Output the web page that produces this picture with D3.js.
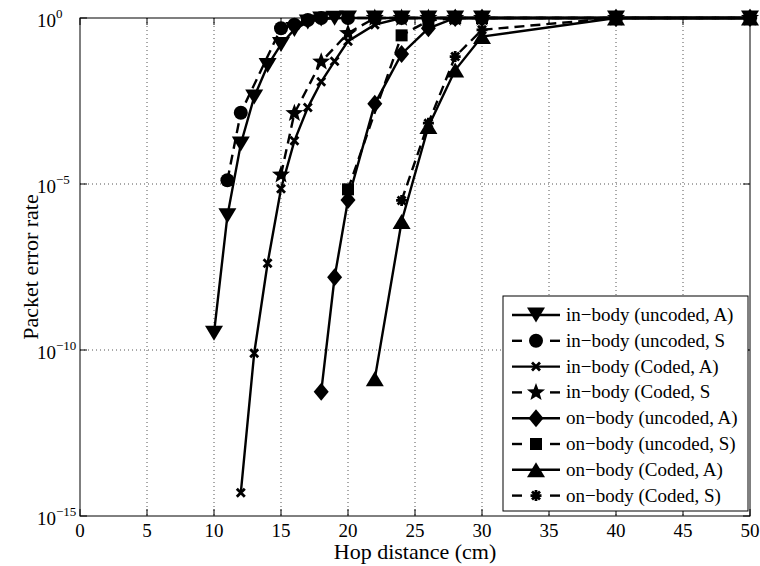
<!DOCTYPE html>
<html><head><meta charset="utf-8">
<script src="https://cdn.jsdelivr.net/npm/d3@7/dist/d3.min.js"></script>
<style>
html,body{margin:0;padding:0;background:#fff;}
text{font-family:"Liberation Serif","Times New Roman",serif;fill:#000;}
</style></head>
<body>
<svg id="chart" width="760" height="566"></svg>
<script>
// ---- data ----
const xTicks = [0,5,10,15,20,25,30,35,40,45,50];
const yTickExps = [0,-5,-10,-15];
const xLabel = "Hop distance (cm)";
const yLabel = "Packet error rate";

const names = [
  "in\u2212body (uncoded, A)",
  "in\u2212body (uncoded, S",
  "in\u2212body (Coded, A)",
  "in\u2212body (Coded, S",
  "on\u2212body (uncoded, A)",
  "on\u2212body (uncoded, S)",
  "on\u2212body (Coded, A)",
  "on\u2212body (Coded, S)"
];
const markers = ["tridown","circle","x","star","diamond","square","triup","asterisk"];
const dashed = [false,true,false,true,false,true,false,true];

const inUncA_x = [10,11,12,13,14,15,16,17,18,19,20,22,24,26,28,30,40,50];
const inUncA_y = [3.2e-10,1.1e-6,1.6e-4,4.2e-3,0.037,0.16,0.45,0.76,0.93,0.98,1,1,1,1,1,1,1,1];
const inUncS_x = [11,12,15,16,17,18,20,22,24,26,28,30,40,50];
const inUncS_y = [1.3e-5,1.4e-3,0.49,0.63,0.87,1,1,1,1,1,1,1,1,1];
const inCodA_x = [12,13,14,15,16,17,18,19,20,22,24,26,28,30,40,50];
const inCodA_y = [5e-15,8e-11,4.1e-8,7.2e-6,2e-4,2e-3,0.012,0.05,0.2,0.63,1,1,1,1,1,1];
const inCodS_x = [15,16,18,20,22,24,26,28,30,40,50];
const inCodS_y = [1.9e-5,1.35e-3,0.048,0.35,1,1,1,1,1,1,1];
const onUncA_x = [18,19,20,22,24,26,28,30,40,50];
const onUncA_y = [5.5e-12,1.55e-8,3.3e-6,2.6e-3,0.083,0.49,1,1,1,1];
const onUncS_x = [20,24,26,28,30,40,50];
const onUncS_y = [6.9e-6,0.3,0.83,1,1,1,1];
const onCodA_x = [22,24,26,28,30,40,50];
const onCodA_y = [1.35e-11,7.4e-7,5.4e-4,0.027,0.275,1,1];
const onCodS_x = [24,26,28,30,40,50];
const onCodS_y = [3.2e-6,6.8e-4,0.069,0.44,1,1];

const seriesX = [inUncA_x,inUncS_x,inCodA_x,inCodS_x,onUncA_x,onUncS_x,onCodA_x,onCodS_x];
const seriesY = [inUncA_y,inUncS_y,inCodA_y,inCodS_y,onUncA_y,onUncS_y,onCodA_y,onCodS_y];

// ---- layout ----
const L=80, R=750, T=18, B=516;
const svg = d3.select("#chart");
const x = d3.scaleLinear().domain([0,50]).range([L,R]);
const y = d3.scaleLog().domain([1e-15,1]).range([B,T]);

// grid
const g = svg.append("g");
xTicks.filter(v=>v>0 && v<50).forEach(v=>{
  g.append("line").attr("x1",x(v)).attr("x2",x(v)).attr("y1",T).attr("y2",B)
   .attr("stroke","#555").attr("stroke-width",1).attr("stroke-dasharray","1,3");
});
yTickExps.filter(e=>e<0 && e>-15).forEach(e=>{
  g.append("line").attr("x1",L).attr("x2",R).attr("y1",y(Math.pow(10,e))).attr("y2",y(Math.pow(10,e)))
   .attr("stroke","#555").attr("stroke-width",1).attr("stroke-dasharray","1,3");
});

// axes box
svg.append("rect").attr("x",L).attr("y",T).attr("width",R-L).attr("height",B-T)
  .attr("fill","none").attr("stroke","#000").attr("stroke-width",1);

// ticks
xTicks.forEach(v=>{
  svg.append("line").attr("x1",x(v)).attr("x2",x(v)).attr("y1",B).attr("y2",B-7).attr("stroke","#000");
  svg.append("line").attr("x1",x(v)).attr("x2",x(v)).attr("y1",T).attr("y2",T+7).attr("stroke","#000");
  svg.append("text").attr("x",x(v)).attr("y",B+21).attr("text-anchor","middle")
    .attr("font-size",19).text(v);
});
yTickExps.forEach(e=>{
  const yy = y(Math.pow(10,e));
  svg.append("line").attr("x1",L).attr("x2",L+7).attr("y1",yy).attr("y2",yy).attr("stroke","#000");
  svg.append("line").attr("x1",R).attr("x2",R-7).attr("y1",yy).attr("y2",yy).attr("stroke","#000");
  const t = svg.append("text").attr("x",37).attr("y",yy+9).attr("font-size",19);
  t.append("tspan").text("10");
  t.append("tspan").attr("dy",-9).attr("font-size",13).text(e===0?"0":"\u2212"+(-e));
});

// axis titles
svg.append("text").attr("x",(L+R)/2).attr("y",559).attr("text-anchor","middle")
  .attr("font-size",22).text(xLabel);
svg.append("text").attr("transform","translate(38,"+((T+B)/2)+") rotate(-90)")
  .attr("text-anchor","middle").attr("font-size",22).text(yLabel);

// marker drawing
function drawMarker(sel, type, cx, cy){
  const gm = sel.append("g").attr("transform","translate("+cx+","+cy+")");
  switch(type){
    case "tridown": gm.append("path").attr("d","M-9,-7.5L9,-7.5L0,7.5Z").attr("fill","#000"); break;
    case "triup": gm.append("path").attr("d","M-9,7.5L9,7.5L0,-7.5Z").attr("fill","#000"); break;
    case "circle": gm.append("circle").attr("r",7).attr("fill","#000"); break;
    case "diamond": gm.append("path").attr("d","M0,-9L7.5,0L0,9L-7.5,0Z").attr("fill","#000"); break;
    case "square": gm.append("rect").attr("x",-6).attr("y",-6).attr("width",12).attr("height",12).attr("fill","#000"); break;
    case "x": gm.append("path").attr("d","M-4,-4L4,4M-4,4L4,-4").attr("stroke","#000").attr("stroke-width",2.8); break;
    case "asterisk": gm.append("path").attr("d","M-5.5,0L5.5,0M0,-5.5L0,5.5M-4,-4L4,4M-4,4L4,-4")
        .attr("stroke","#000").attr("stroke-width",2.8); break;
    case "star": {
      const pts=[]; for(let i=0;i<10;i++){const r=i%2===0?9.5:4; const a=-Math.PI/2+i*Math.PI/5; pts.push([r*Math.cos(a),r*Math.sin(a)]);}
      gm.append("path").attr("d","M"+pts.map(p=>p[0].toFixed(2)+","+p[1].toFixed(2)).join("L")+"Z").attr("fill","#000"); break;
    }
  }
}

// series
const line = d3.line().x(d=>x(d[0])).y(d=>y(d[1]));
seriesX.forEach((xs,i)=>{
  const pts = xs.map((v,j)=>[v,seriesY[i][j]]);
  const sg = svg.append("g");
  sg.append("path").attr("d",line(pts)).attr("fill","none").attr("stroke","#000")
    .attr("stroke-width",2.4).attr("stroke-dasharray",dashed[i]?"10,6":null);
  pts.forEach(p=>drawMarker(sg,markers[i],x(p[0]),y(p[1])));
});

// legend
const lg = svg.append("g");
lg.append("rect").attr("x",503).attr("y",296).attr("width",245).attr("height",215)
  .attr("fill","#fff").attr("stroke","#000").attr("stroke-width",1);
names.forEach((n,i)=>{
  const ly = 315 + i*25.8;
  if(dashed[i]){
    lg.append("line").attr("x1",512).attr("x2",522).attr("y1",ly).attr("y2",ly).attr("stroke","#000").attr("stroke-width",2.4);
    lg.append("line").attr("x1",550).attr("x2",560).attr("y1",ly).attr("y2",ly).attr("stroke","#000").attr("stroke-width",2.4);
  } else {
    lg.append("line").attr("x1",512).attr("x2",560).attr("y1",ly).attr("y2",ly).attr("stroke","#000").attr("stroke-width",2.4);
  }
  drawMarker(lg,markers[i],536,ly);
  lg.append("text").attr("x",566).attr("y",ly+6).attr("font-size",19).text(n);
});
</script>
</body></html>
